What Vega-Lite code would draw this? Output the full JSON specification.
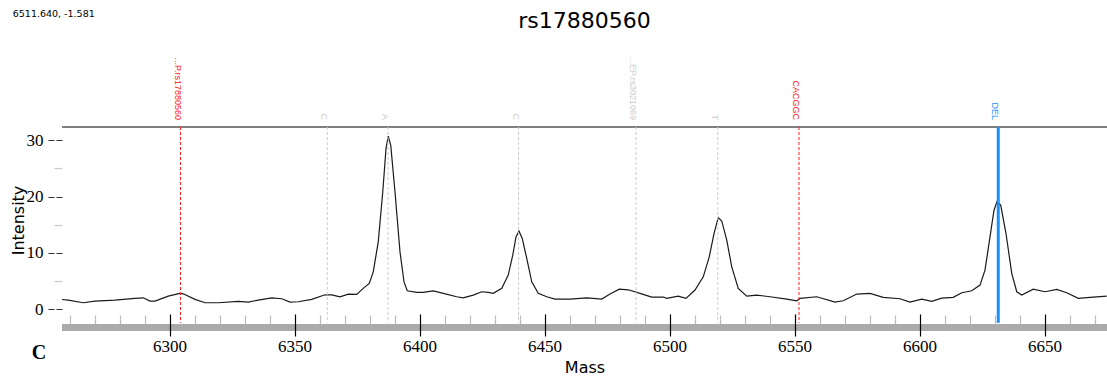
{
  "$schema": "https://vega.github.io/schema/vega-lite/v6.json",
  "width": 1045,
  "height": 209,
  "autosize": {"type": "none"},
  "padding": {"left": 62, "top": 127, "right": 0, "bottom": 45},
  "background": "white",
  "title": {"text": "rs17880560", "font": "DejaVu Sans", "fontSize": 22, "fontWeight": "normal", "color": "#000000", "anchor": "middle", "offset": 10, "dy": 34},
  "config": {"view": {"stroke": null}},
  "resolve": {"axis": {"x": "independent", "y": "independent"}},
  "datasets": {
    "spectrum": [
      {"mass": 6257.0, "intensity": 1.75}, {"mass": 6259.5, "intensity": 1.65}, {"mass": 6265.5, "intensity": 1.17},
      {"mass": 6270.2, "intensity": 1.47}, {"mass": 6278.2, "intensity": 1.65}, {"mass": 6286.2, "intensity": 1.95},
      {"mass": 6289.5, "intensity": 2.05}, {"mass": 6292.2, "intensity": 1.47}, {"mass": 6294.2, "intensity": 1.47},
      {"mass": 6299.5, "intensity": 2.35}, {"mass": 6304.2, "intensity": 2.83}, {"mass": 6305.5, "intensity": 2.76},
      {"mass": 6310.2, "intensity": 1.77}, {"mass": 6314.2, "intensity": 1.17}, {"mass": 6319.5, "intensity": 1.17},
      {"mass": 6327.5, "intensity": 1.42}, {"mass": 6331.5, "intensity": 1.29}, {"mass": 6335.5, "intensity": 1.65},
      {"mass": 6340.9, "intensity": 2.05}, {"mass": 6344.9, "intensity": 1.88}, {"mass": 6348.2, "intensity": 1.29},
      {"mass": 6351.5, "intensity": 1.35}, {"mass": 6356.9, "intensity": 1.77}, {"mass": 6362.2, "intensity": 2.58},
      {"mass": 6364.9, "intensity": 2.58}, {"mass": 6368.2, "intensity": 2.23}, {"mass": 6371.5, "intensity": 2.71},
      {"mass": 6374.9, "intensity": 2.65}, {"mass": 6377.5, "intensity": 3.72}, {"mass": 6379.9, "intensity": 4.6},
      {"mass": 6381.5, "intensity": 6.65}, {"mass": 6383.5, "intensity": 11.96}, {"mass": 6385.3, "intensity": 20.81},
      {"mass": 6386.6, "intensity": 28.5}, {"mass": 6387.5, "intensity": 30.73}, {"mass": 6388.5, "intensity": 29.08},
      {"mass": 6390.2, "intensity": 20.81}, {"mass": 6392.2, "intensity": 10.19}, {"mass": 6393.8, "intensity": 4.88},
      {"mass": 6395.1, "intensity": 3.29}, {"mass": 6398.9, "intensity": 3.01}, {"mass": 6401.5, "intensity": 3.01},
      {"mass": 6405.5, "intensity": 3.29}, {"mass": 6409.5, "intensity": 2.83}, {"mass": 6414.9, "intensity": 2.23},
      {"mass": 6417.5, "intensity": 2.05}, {"mass": 6421.5, "intensity": 2.53}, {"mass": 6424.9, "intensity": 3.12},
      {"mass": 6427.5, "intensity": 3.01}, {"mass": 6429.5, "intensity": 2.83}, {"mass": 6432.9, "intensity": 3.72},
      {"mass": 6435.5, "intensity": 6.07}, {"mass": 6437.3, "intensity": 9.61}, {"mass": 6438.6, "intensity": 12.85},
      {"mass": 6439.8, "intensity": 13.86}, {"mass": 6441.1, "intensity": 12.57}, {"mass": 6442.9, "intensity": 9.03},
      {"mass": 6444.9, "intensity": 4.88}, {"mass": 6447.5, "intensity": 2.83}, {"mass": 6450.9, "intensity": 2.23},
      {"mass": 6454.2, "intensity": 1.82}, {"mass": 6460.2, "intensity": 1.82}, {"mass": 6466.9, "intensity": 2.05},
      {"mass": 6472.9, "intensity": 1.82}, {"mass": 6476.2, "intensity": 2.71}, {"mass": 6479.9, "intensity": 3.59},
      {"mass": 6483.5, "intensity": 3.47}, {"mass": 6488.2, "intensity": 2.83}, {"mass": 6492.9, "intensity": 2.18},
      {"mass": 6497.5, "intensity": 2.18}, {"mass": 6498.9, "intensity": 1.95}, {"mass": 6503.5, "intensity": 2.35},
      {"mass": 6506.6, "intensity": 1.95}, {"mass": 6510.2, "intensity": 3.42}, {"mass": 6513.5, "intensity": 5.77},
      {"mass": 6515.9, "intensity": 9.31}, {"mass": 6517.8, "intensity": 13.45}, {"mass": 6519.5, "intensity": 16.28},
      {"mass": 6520.9, "intensity": 15.68}, {"mass": 6522.9, "intensity": 12.27}, {"mass": 6524.9, "intensity": 7.54},
      {"mass": 6527.5, "intensity": 3.72}, {"mass": 6530.9, "intensity": 2.35}, {"mass": 6534.9, "intensity": 2.53},
      {"mass": 6540.2, "intensity": 2.23}, {"mass": 6546.9, "intensity": 1.82}, {"mass": 6550.9, "intensity": 1.52},
      {"mass": 6552.2, "intensity": 1.95}, {"mass": 6558.9, "intensity": 2.23}, {"mass": 6566.2, "intensity": 1.29},
      {"mass": 6569.5, "intensity": 1.52}, {"mass": 6574.9, "intensity": 2.71}, {"mass": 6580.2, "intensity": 2.83},
      {"mass": 6585.5, "intensity": 2.12}, {"mass": 6592.2, "intensity": 1.88}, {"mass": 6596.2, "intensity": 1.29},
      {"mass": 6600.9, "intensity": 1.82}, {"mass": 6604.9, "intensity": 1.42}, {"mass": 6608.9, "intensity": 2.0},
      {"mass": 6613.5, "intensity": 2.12}, {"mass": 6616.9, "intensity": 2.94}, {"mass": 6620.9, "intensity": 3.29},
      {"mass": 6624.2, "intensity": 4.3}, {"mass": 6626.2, "intensity": 6.96}, {"mass": 6628.2, "intensity": 12.85},
      {"mass": 6629.8, "intensity": 17.58}, {"mass": 6631.1, "intensity": 19.22}, {"mass": 6632.5, "intensity": 18.46},
      {"mass": 6634.6, "intensity": 13.45}, {"mass": 6636.9, "intensity": 6.37}, {"mass": 6638.9, "intensity": 3.12},
      {"mass": 6640.9, "intensity": 2.53}, {"mass": 6645.5, "intensity": 3.59}, {"mass": 6650.2, "intensity": 3.12},
      {"mass": 6654.9, "intensity": 3.54}, {"mass": 6658.9, "intensity": 2.94}, {"mass": 6663.5, "intensity": 1.95},
      {"mass": 6668.2, "intensity": 2.12}, {"mass": 6674.9, "intensity": 2.35}
    ],
    "markers": [
      {"mass": 6304.4, "label": "...P.rs17880560", "kind": "primer"},
      {"mass": 6363.1, "label": "C", "kind": "allele"},
      {"mass": 6387.4, "label": "A", "kind": "allele"},
      {"mass": 6439.6, "label": "C", "kind": "allele"},
      {"mass": 6486.6, "label": "...EP.rs3021069", "kind": "allele"},
      {"mass": 6519.3, "label": "T", "kind": "allele"},
      {"mass": 6551.8, "label": "CACGGC", "kind": "primer"},
      {"mass": 6631.5, "label": "DEL", "kind": "call"}
    ]
  },
  "layer": [
    {
      "data": {"name": "spectrum"},
      "mark": {"type": "line", "color": "#1a1a1a", "strokeWidth": 1.2},
      "encoding": {
        "x": {
          "field": "mass", "type": "quantitative",
          "scale": {"domain": [6257, 6675], "nice": false, "zero": false},
          "axis": {
            "orient": "bottom",
            "values": [6260, 6270, 6280, 6290, 6300, 6310, 6320, 6330, 6340, 6350, 6360, 6370, 6380, 6390, 6400, 6410, 6420, 6430, 6440, 6450, 6460, 6470, 6480, 6490, 6500, 6510, 6520, 6530, 6540, 6550, 6560, 6570, 6580, 6590, 6600, 6610, 6620, 6630, 6640, 6650, 6660, 6670],
            "format": "d",
            "labelExpr": "datum.value % 50 === 0 ? datum.label : ''",
            "labelOverlap": false,
            "domain": false,
            "grid": false,
            "tickSize": -22,
            "tickWidth": 1.2,
            "tickColor": {"condition": {"test": "datum.value % 50 === 0", "value": "#000000"}, "value": "#bbbbbb"},
            "tickDash": {"condition": {"test": "datum.value % 50 !== 0", "value": [0, 12, 9, 40]}, "value": [30, 0]},
            "labelFont": "Liberation Serif",
            "labelFontSize": 17,
            "labelColor": "#000000",
            "labelPadding": 24,
            "labelFlush": false,
            "title": "Mass",
            "titleFont": "DejaVu Sans",
            "titleFontSize": 16,
            "titleFontWeight": "normal",
            "titleColor": "#000000",
            "titleY": 31,
            "titleBaseline": "middle",
            "zindex": 1
          }
        },
        "y": {
          "field": "intensity", "type": "quantitative",
          "scale": {"domain": [-4.73, 32.35], "nice": false, "zero": false},
          "axis": {
            "orient": "left",
            "values": [0, 5, 10, 15, 20, 25, 30],
            "labelExpr": "datum.value % 10 === 0 ? datum.label : ''",
            "labelOverlap": false,
            "domain": false,
            "grid": false,
            "tickSize": 15,
            "tickWidth": 1.2,
            "tickColor": {"condition": {"test": "datum.value % 10 === 0", "value": "#333333"}, "value": "#cccccc"},
            "tickDash": {"condition": {"test": "datum.value % 10 === 0", "value": [6, 2]}, "value": [8, 30]},
            "labelFont": "Liberation Serif",
            "labelFontSize": 17,
            "labelColor": "#000000",
            "labelPadding": 4,
            "title": "Intensity",
            "titleFont": "DejaVu Sans",
            "titleFontSize": 16,
            "titleFontWeight": "normal",
            "titleColor": "#000000",
            "titleX": -44,
            "titleY": 93,
            "titleAngle": 270,
            "titleAlign": "center",
            "titleBaseline": "middle",
            "zindex": 1
          }
        }
      }
    },
    {
      "data": {"values": [{"part": "baseline bar"}]},
      "mark": {"type": "rule", "color": "#aaaaaa", "strokeWidth": 7},
      "encoding": {
        "y": {"datum": -3.22, "type": "quantitative", "scale": {"domain": [-4.73, 32.35], "nice": false, "zero": false}, "axis": null}
      }
    },
    {
      "data": {"values": [{"part": "top frame"}]},
      "mark": {"type": "rule", "color": "#555555", "strokeWidth": 1.6},
      "encoding": {
        "y": {"datum": 32.35, "type": "quantitative", "scale": {"domain": [-4.73, 32.35], "nice": false, "zero": false}, "axis": null}
      }
    },
    {
      "data": {"name": "markers"},
      "transform": [{"filter": "datum.kind !== 'call'"}],
      "mark": {"type": "rule", "strokeWidth": 1, "strokeDash": [3, 2]},
      "encoding": {
        "x": {"field": "mass", "type": "quantitative", "scale": {"domain": [6257, 6675], "nice": false, "zero": false}, "axis": null},
        "y": {"datum": 32.35, "type": "quantitative", "scale": {"domain": [-4.73, 32.35], "nice": false, "zero": false}, "axis": null},
        "y2": {"datum": -2.4},
        "color": {"field": "kind", "type": "nominal", "scale": {"domain": ["primer", "allele", "call"], "range": ["#ff2020", "#cccccc", "#1a8fff"]}, "legend": null}
      }
    },
    {
      "data": {"name": "markers"},
      "transform": [{"filter": "datum.kind === 'call'"}],
      "mark": {"type": "rule", "strokeWidth": 3},
      "encoding": {
        "x": {"field": "mass", "type": "quantitative", "scale": {"domain": [6257, 6675], "nice": false, "zero": false}, "axis": null},
        "y": {"datum": 32.35, "type": "quantitative", "scale": {"domain": [-4.73, 32.35], "nice": false, "zero": false}, "axis": null},
        "y2": {"datum": -2.4},
        "color": {"field": "kind", "type": "nominal", "scale": {"domain": ["primer", "allele", "call"], "range": ["#ff2020", "#cccccc", "#1a8fff"]}, "legend": null}
      }
    },
    {
      "data": {"name": "markers"},
      "mark": {"type": "text", "angle": 90, "align": "right", "baseline": "top", "dx": -7, "dy": -1, "font": "Liberation Sans", "fontSize": 9},
      "encoding": {
        "x": {"field": "mass", "type": "quantitative", "scale": {"domain": [6257, 6675], "nice": false, "zero": false}, "axis": null},
        "y": {"datum": 32.35, "type": "quantitative", "scale": {"domain": [-4.73, 32.35], "nice": false, "zero": false}, "axis": null},
        "text": {"field": "label"},
        "color": {"field": "kind", "type": "nominal", "scale": {"domain": ["primer", "allele", "call"], "range": ["#ff2020", "#bbbbbb", "#1a8fff"]}, "legend": null}
      }
    },
    {
      "data": {"values": [{"note": "C"}]},
      "mark": {"type": "text", "font": "Liberation Serif", "fontSize": 20, "fontWeight": "bold", "color": "#000000", "align": "center", "baseline": "middle"},
      "encoding": {
        "x": {"datum": 6247.8, "type": "quantitative", "scale": {"domain": [6257, 6675], "nice": false, "zero": false}, "axis": null},
        "y": {"datum": -7.8, "type": "quantitative", "scale": {"domain": [-4.73, 32.35], "nice": false, "zero": false}, "axis": null},
        "text": {"field": "note"}
      }
    },
    {
      "data": {"values": [{"note": "6511.640, -1.581"}]},
      "mark": {"type": "text", "font": "DejaVu Sans", "fontSize": 9.5, "color": "#000000", "align": "left", "baseline": "middle"},
      "encoding": {
        "x": {"datum": 6237.3, "type": "quantitative", "scale": {"domain": [6257, 6675], "nice": false, "zero": false}, "axis": null},
        "y": {"datum": 52.4, "type": "quantitative", "scale": {"domain": [-4.73, 32.35], "nice": false, "zero": false}, "axis": null},
        "text": {"field": "note"}
      }
    }
  ]
}
